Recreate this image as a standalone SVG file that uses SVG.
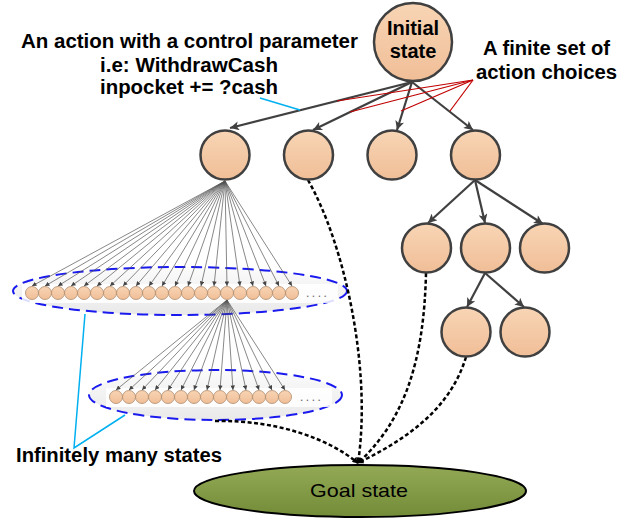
<svg xmlns="http://www.w3.org/2000/svg" width="636" height="519" viewBox="0 0 636 519">
<style>
.node{fill:url(#peach);stroke:#404040;stroke-width:2.5}
.small{fill:url(#peach);stroke:#b08a6a;stroke-width:0.8}
.arr{stroke:#404040;stroke-width:2.2;fill:none;marker-end:url(#ah)}
.fan{stroke:#555;stroke-width:0.7;fill:none;marker-end:url(#fh)}
.dot{stroke:#000;stroke-width:2.5;stroke-dasharray:4 2.5;fill:none}
.red{stroke:#C00000;stroke-width:1.2;fill:none}
.cyan{stroke:#00B0F0;stroke-width:1.5;fill:none}
.grp{fill:url(#grey);stroke:#1a1aee;stroke-width:2;stroke-dasharray:11 6}
.t{font-family:"Liberation Sans",Arial,sans-serif;font-weight:bold;font-size:20px;fill:#000}
.dots{font-family:"Liberation Sans",Arial,sans-serif;font-size:12px;fill:#666;letter-spacing:2.5px}
</style>
<defs>
<linearGradient id="peach" x1="0" y1="0" x2="0" y2="1">
<stop offset="0" stop-color="#F8D5B5"/>
<stop offset="1" stop-color="#F0BE97"/>
</linearGradient>
<linearGradient id="grey" x1="0" y1="0" x2="0" y2="1">
<stop offset="0" stop-color="#fbfbfb"/>
<stop offset="1" stop-color="#e9e9e9"/>
</linearGradient>
<linearGradient id="olive" x1="0" y1="0" x2="0" y2="1">
<stop offset="0" stop-color="#93A956"/>
<stop offset="1" stop-color="#738C38"/>
</linearGradient>
<marker id="ah" viewBox="0 0 10 10" refX="10" refY="5" markerWidth="11" markerHeight="9" markerUnits="userSpaceOnUse" orient="auto">
<path d="M0,0 L10,5 L0,10 L2.5,5 z" fill="#404040"/>
</marker>
<marker id="fh" viewBox="0 0 10 10" refX="10" refY="5" markerWidth="5" markerHeight="4.5" markerUnits="userSpaceOnUse" orient="auto">
<path d="M0,0 L10,5 L0,10 z" fill="#444"/>
</marker>
<marker id="dh" viewBox="0 0 10 10" refX="9" refY="5" markerWidth="7" markerHeight="6" markerUnits="userSpaceOnUse" orient="auto">
<path d="M0,0 L10,5 L0,10 z" fill="#000"/>
</marker>
</defs>

<!-- groups of infinitely many states -->
<g id="group1">
<ellipse class="grp" cx="180" cy="291" rx="167" ry="24"/>
<rect x="22" y="284" width="316" height="19" fill="#fff" opacity="0.85"/>
</g>
<g id="group2">
<ellipse class="grp" cx="215.5" cy="395" rx="126.5" ry="25"/>
<rect x="106" y="388" width="226" height="19" fill="#fff" opacity="0.85"/>
</g>

<g id="connectors">
<!-- initial state arrows -->
<line class="arr" x1="412" y1="82" x2="230" y2="128"/>
<line class="arr" x1="412" y1="82" x2="313" y2="130"/>
<line class="arr" x1="412" y1="82" x2="397" y2="130"/>
<line class="arr" x1="412" y1="82" x2="473" y2="130"/>
<!-- level 2 -->
<line class="arr" x1="475" y1="180" x2="428" y2="223"/>
<line class="arr" x1="475" y1="180" x2="485" y2="223"/>
<line class="arr" x1="475" y1="180" x2="543" y2="224"/>
<!-- level 3 -->
<line class="arr" x1="485" y1="273" x2="467" y2="307"/>
<line class="arr" x1="485" y1="273" x2="524" y2="307"/>
<!-- fan row 1 -->
<g>
<line class="fan" x1="225" y1="181" x2="32" y2="286"/>
<line class="fan" x1="225" y1="181" x2="45" y2="286"/>
<line class="fan" x1="225" y1="181" x2="58" y2="286"/>
<line class="fan" x1="225" y1="181" x2="71" y2="286"/>
<line class="fan" x1="225" y1="181" x2="84" y2="286"/>
<line class="fan" x1="225" y1="181" x2="97" y2="286"/>
<line class="fan" x1="225" y1="181" x2="110" y2="286"/>
<line class="fan" x1="225" y1="181" x2="123" y2="286"/>
<line class="fan" x1="225" y1="181" x2="136" y2="286"/>
<line class="fan" x1="225" y1="181" x2="149" y2="286"/>
<line class="fan" x1="225" y1="181" x2="162" y2="286"/>
<line class="fan" x1="225" y1="181" x2="175" y2="286"/>
<line class="fan" x1="225" y1="181" x2="188" y2="286"/>
<line class="fan" x1="225" y1="181" x2="201" y2="286"/>
<line class="fan" x1="225" y1="181" x2="214" y2="286"/>
<line class="fan" x1="225" y1="181" x2="227" y2="286"/>
<line class="fan" x1="225" y1="181" x2="240" y2="286"/>
<line class="fan" x1="225" y1="181" x2="253" y2="286"/>
<line class="fan" x1="225" y1="181" x2="266" y2="286"/>
<line class="fan" x1="225" y1="181" x2="279" y2="286"/>
<line class="fan" x1="225" y1="181" x2="292" y2="286"/>
</g>
<!-- fan row 2 -->
<g>
<line class="fan" x1="227" y1="300" x2="116" y2="390"/>
<line class="fan" x1="227" y1="300" x2="129" y2="390"/>
<line class="fan" x1="227" y1="300" x2="142" y2="390"/>
<line class="fan" x1="227" y1="300" x2="155" y2="390"/>
<line class="fan" x1="227" y1="300" x2="168" y2="390"/>
<line class="fan" x1="227" y1="300" x2="181" y2="390"/>
<line class="fan" x1="227" y1="300" x2="194" y2="390"/>
<line class="fan" x1="227" y1="300" x2="207" y2="390"/>
<line class="fan" x1="227" y1="300" x2="220" y2="390"/>
<line class="fan" x1="227" y1="300" x2="233" y2="390"/>
<line class="fan" x1="227" y1="300" x2="246" y2="390"/>
<line class="fan" x1="227" y1="300" x2="259" y2="390"/>
<line class="fan" x1="227" y1="300" x2="272" y2="390"/>
<line class="fan" x1="227" y1="300" x2="285" y2="390"/>
</g>
<!-- dotted paths to goal -->
<path class="dot" d="M308,180 C345,245 372,370 358,463" marker-end="url(#dh)"/>
<path class="dot" d="M426,273 C424,360 405,420 358,463" marker-end="url(#dh)"/>
<path class="dot" d="M466,357 C450,410 405,440 358,463" marker-end="url(#dh)"/>
<path class="dot" d="M215,421 C280,420 330,440 358,463" marker-end="url(#dh)"/>
<!-- callout lines -->
<line class="red" x1="473" y1="80" x2="337" y2="101"/>
<line class="red" x1="473" y1="80" x2="350" y2="112"/>
<line class="red" x1="473" y1="80" x2="401" y2="111"/>
<line class="red" x1="473" y1="80" x2="450" y2="111"/>
<line class="cyan" x1="260" y1="98" x2="300" y2="110"/>
<polyline class="cyan" points="85,314 74,448 125,415"/>
</g>

<!-- row 1 small states -->
<g id="row1">
<circle class="small" cx="32" cy="293" r="6.5"/><circle class="small" cx="45" cy="293" r="6.5"/><circle class="small" cx="58" cy="293" r="6.5"/><circle class="small" cx="71" cy="293" r="6.5"/><circle class="small" cx="84" cy="293" r="6.5"/><circle class="small" cx="97" cy="293" r="6.5"/><circle class="small" cx="110" cy="293" r="6.5"/><circle class="small" cx="123" cy="293" r="6.5"/><circle class="small" cx="136" cy="293" r="6.5"/><circle class="small" cx="149" cy="293" r="6.5"/><circle class="small" cx="162" cy="293" r="6.5"/><circle class="small" cx="175" cy="293" r="6.5"/><circle class="small" cx="188" cy="293" r="6.5"/><circle class="small" cx="201" cy="293" r="6.5"/><circle class="small" cx="214" cy="293" r="6.5"/><circle class="small" cx="227" cy="293" r="6.5"/><circle class="small" cx="240" cy="293" r="6.5"/><circle class="small" cx="253" cy="293" r="6.5"/><circle class="small" cx="266" cy="293" r="6.5"/><circle class="small" cx="279" cy="293" r="6.5"/><circle class="small" cx="292" cy="293" r="6.5"/>
<text class="dots" x="306" y="297">....</text>
</g>
<g id="row2">
<circle class="small" cx="116" cy="397" r="6.5"/><circle class="small" cx="129" cy="397" r="6.5"/><circle class="small" cx="142" cy="397" r="6.5"/><circle class="small" cx="155" cy="397" r="6.5"/><circle class="small" cx="168" cy="397" r="6.5"/><circle class="small" cx="181" cy="397" r="6.5"/><circle class="small" cx="194" cy="397" r="6.5"/><circle class="small" cx="207" cy="397" r="6.5"/><circle class="small" cx="220" cy="397" r="6.5"/><circle class="small" cx="233" cy="397" r="6.5"/><circle class="small" cx="246" cy="397" r="6.5"/><circle class="small" cx="259" cy="397" r="6.5"/><circle class="small" cx="272" cy="397" r="6.5"/><circle class="small" cx="285" cy="397" r="6.5"/>
<text class="dots" x="300" y="401">....</text>
</g>

<g id="initial">
<circle class="node" cx="413" cy="42" r="39"/>
<text class="t" x="413" y="35" text-anchor="middle">Initial</text>
<text class="t" x="413" y="58" text-anchor="middle">state</text>
</g>
<g id="s1"><circle class="node" cx="225" cy="155" r="24.5"/></g>
<g id="s2"><circle class="node" cx="308.5" cy="155" r="24.5"/></g>
<g id="s3"><circle class="node" cx="392" cy="155" r="24.5"/></g>
<g id="s4"><circle class="node" cx="475.5" cy="155" r="24.5"/></g>
<g id="s41"><circle class="node" cx="426.5" cy="248" r="24.5"/></g>
<g id="s42"><circle class="node" cx="485.5" cy="248" r="24.5"/></g>
<g id="s43"><circle class="node" cx="544.5" cy="248" r="24.5"/></g>
<g id="s421"><circle class="node" cx="466" cy="332" r="24.5"/></g>
<g id="s422"><circle class="node" cx="525" cy="332" r="24.5"/></g>

<g id="goal">
<ellipse cx="360" cy="491" rx="166" ry="26" fill="url(#olive)" stroke="#000" stroke-width="2"/>
<text x="359" y="497" text-anchor="middle" font-family="Liberation Sans, Arial, sans-serif" font-size="19" textLength="98" lengthAdjust="spacingAndGlyphs">Goal state</text>
</g>

<g id="labels">
<text class="t" x="21" y="48" textLength="337" lengthAdjust="spacingAndGlyphs">An action with a control parameter</text>
<text class="t" x="100" y="72" textLength="178" lengthAdjust="spacingAndGlyphs">i.e: WithdrawCash</text>
<text class="t" x="100" y="94" textLength="178" lengthAdjust="spacingAndGlyphs">inpocket += ?cash</text>
<text class="t" x="483" y="55" textLength="127" lengthAdjust="spacingAndGlyphs">A finite set of</text>
<text class="t" x="476" y="79" textLength="141" lengthAdjust="spacingAndGlyphs">action choices</text>
<text class="t" x="16" y="462" textLength="206" lengthAdjust="spacingAndGlyphs">Infinitely many states</text>
</g>
</svg>
